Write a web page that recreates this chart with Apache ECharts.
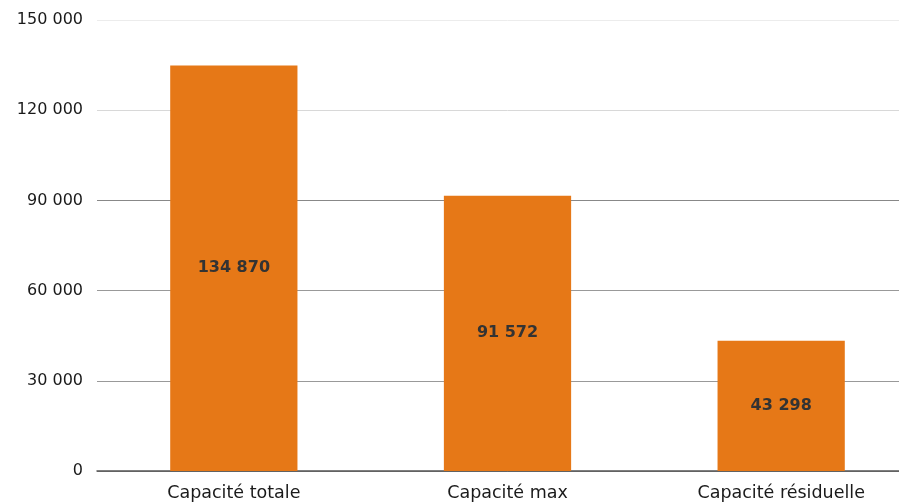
<!DOCTYPE html>
<html>
<head>
<meta charset="utf-8">
<script src="https://cdn.jsdelivr.net/npm/echarts@6/dist/echarts.min.js"></script>
<style>
  html, body { margin: 0; padding: 0; background: #fff; overflow: hidden; }
  #wrap { width: 899px; height: 504px; overflow: hidden; }
  #chart { width: 918px; height: 504px; }
</style>
</head>
<body>
<div id="wrap"><div id="chart"></div></div>
<script>
// Capacities (places)
const categories = ['Capacité totale', 'Capacité max', 'Capacité résiduelle'];
const capacities = [134870, 91572, 43298];
const yTicks = [0, 30000, 60000, 90000, 120000, 150000];

const fmt = v => String(v).replace(/\B(?=(\d{3})+(?!\d))/g, ' ');

const chart = echarts.init(document.getElementById('chart'));
chart.setOption({
  animation: false,
  backgroundColor: '#fff',
  grid: { left: 97, right: 0, top: 20, bottom: 33, containLabel: false },
  xAxis: {
    type: 'category',
    data: categories,
    axisLine: { show: true, lineStyle: { color: '#555', width: 1.5 } },
    axisTick: { show: false },
    axisLabel: { color: '#1a1a1a', fontSize: 17.5, fontFamily: 'DejaVu Sans', margin: 13 }
  },
  yAxis: {
    type: 'value',
    min: yTicks[0],
    max: yTicks[yTicks.length - 1],
    interval: yTicks[1] - yTicks[0],
    axisLine: { show: false },
    axisTick: { show: false },
    axisLabel: { color: '#1a1a1a', fontSize: 16, fontFamily: 'DejaVu Sans', margin: 14, formatter: fmt },
    splitLine: { lineStyle: { color: ['#888', '#999', '#999', '#888', '#d8d8d8', '#ececec'], width: 1 } }
  },
  series: [{
    type: 'bar',
    data: capacities,
    barWidth: '46.5%',
    itemStyle: { color: '#E67817' },
    label: {
      show: true,
      position: 'inside',
      color: '#333',
      fontSize: 16,
      fontWeight: 'bold',
      fontFamily: 'DejaVu Sans',
      formatter: p => fmt(p.value)
    }
  }]
});
</script>
</body>
</html>
